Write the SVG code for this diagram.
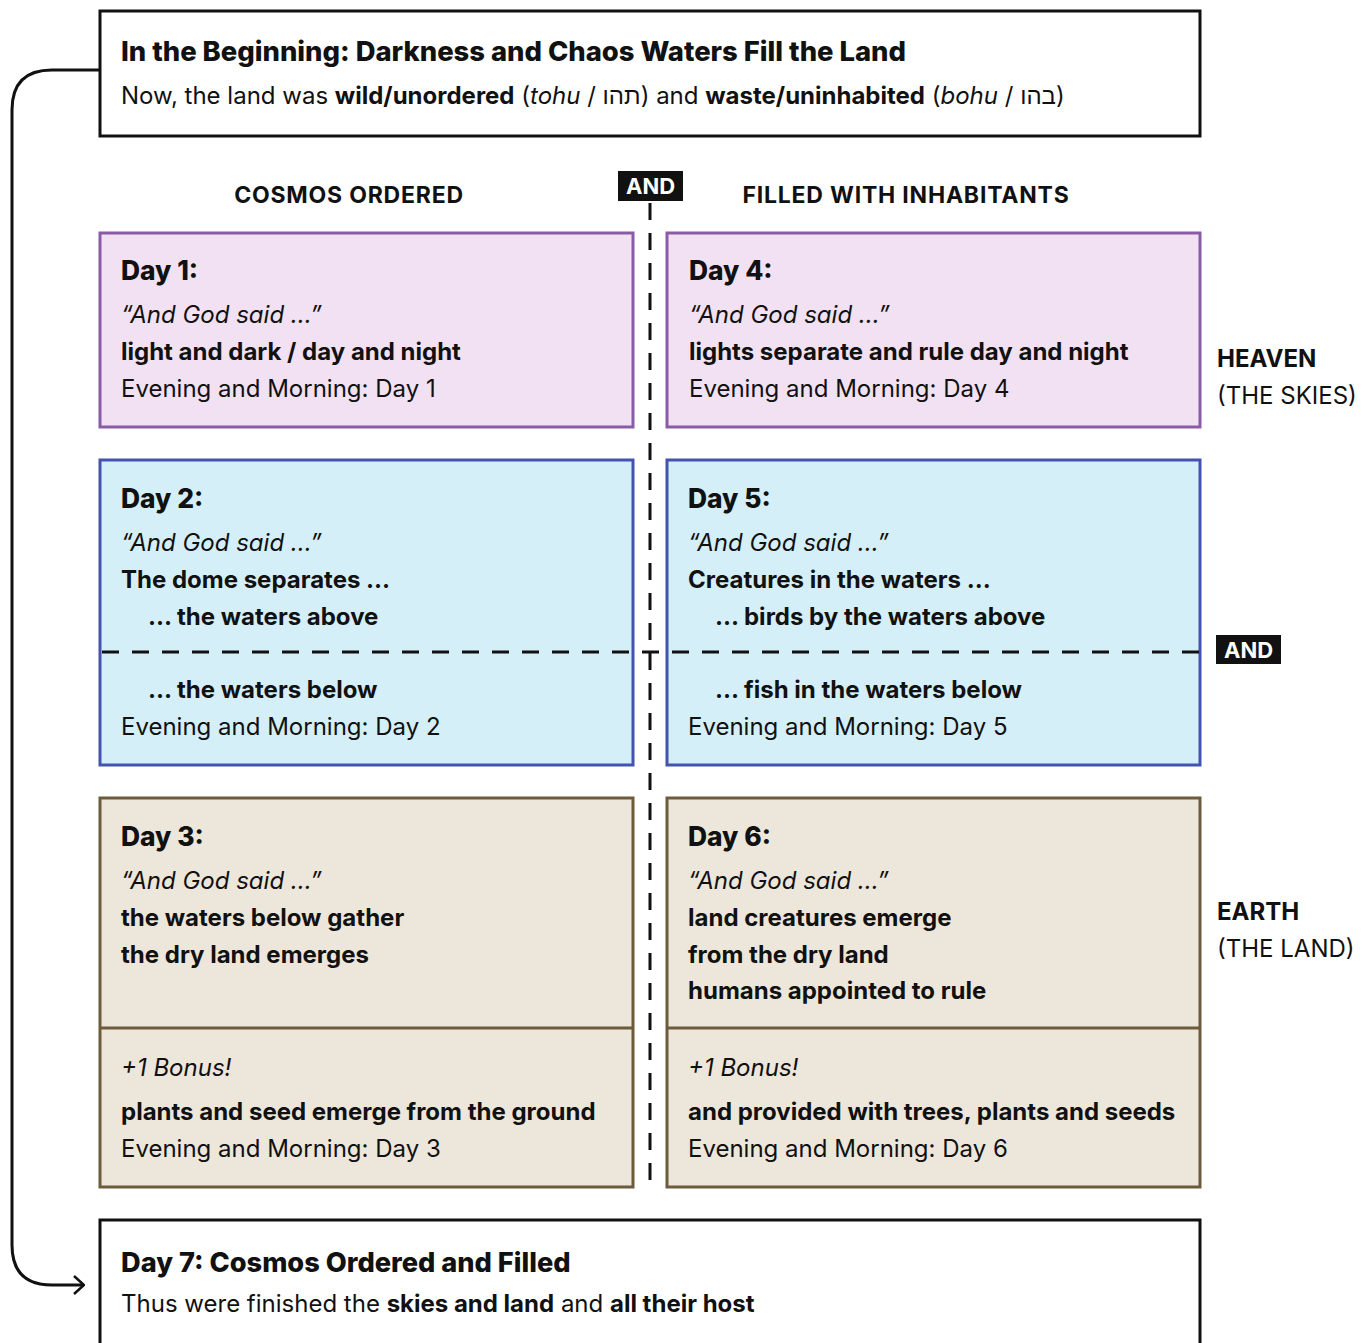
<svg xmlns="http://www.w3.org/2000/svg" width="1367" height="1343" viewBox="0 0 1367 1343">
<defs>
<style>
text{font-family:Inter,"Noto Sans",sans-serif;fill:#111;font-size:24px}
.h{font-weight:800;font-size:26.4px}
.b{font-weight:700}
.i{font-style:italic}
.cap{font-weight:700;font-size:23px;letter-spacing:0.8px}
.tag{font-weight:700;font-size:22px;fill:#fff}
.frame{fill:#fff;stroke:#111;stroke-width:3}
.sky{fill:#f2e1f3;stroke:#8a5ba6;stroke-width:3}
.sea{fill:#d5eff8;stroke:#4452b0;stroke-width:3}
.land{fill:#ede6db;stroke:#6c5c3c;stroke-width:3}
.dash{stroke:#111;stroke-width:3;fill:none;stroke-dasharray:17 13}
</style>
<marker id="arr" viewBox="0 0 12 20" refX="11" refY="10" markerWidth="12" markerHeight="20" markerUnits="userSpaceOnUse" orient="auto">
<path d="M1 1 L11 10 L1 19" fill="none" stroke="#111" stroke-width="2.5"/>
</marker>
</defs>
<rect width="1367" height="1343" fill="#fff"/>

<g id="beginning">
<rect class="frame" x="100" y="11" width="1100" height="125"/>
<text x="121" y="61" class="h" style="font-size:27.4px">In the Beginning: Darkness and Chaos Waters Fill the Land</text>
<text x="121" y="104">Now, the land was <tspan class="b">wild/unordered</tspan> (<tspan class="i">tohu</tspan> / תהו) and <tspan class="b">waste/uninhabited</tspan> (<tspan class="i">bohu</tspan> / בהו)</text>
</g>

<g id="headers">
<text x="349" y="203" class="cap" text-anchor="middle">COSMOS ORDERED</text>
<text x="906" y="203" class="cap" text-anchor="middle">FILLED WITH INHABITANTS</text>
</g>

<g id="day1">
<rect class="sky" x="100" y="233" width="533" height="194"/>
<text x="121" y="280" class="h">Day 1:</text>
<text x="121" y="323" class="i">“And God said ...”</text>
<text x="121" y="360" class="b">light and dark / day and night</text>
<text x="121" y="397">Evening and Morning: Day 1</text>
</g>

<g id="day4">
<rect class="sky" x="667" y="233" width="533" height="194"/>
<text x="689" y="280" class="h">Day 4:</text>
<text x="689" y="323" class="i">“And God said ...”</text>
<text x="689" y="360" class="b">lights separate and rule day and night</text>
<text x="689" y="397">Evening and Morning: Day 4</text>
</g>

<g id="day2">
<rect class="sea" x="100" y="460" width="533" height="305"/>
<text x="121" y="508" class="h">Day 2:</text>
<text x="121" y="551" class="i">“And God said ...”</text>
<text x="121" y="588" class="b">The dome separates ...</text>
<text x="148" y="625" class="b">... the waters above</text>
<text x="148" y="698" class="b">... the waters below</text>
<text x="121" y="735">Evening and Morning: Day 2</text>
</g>

<g id="day5">
<rect class="sea" x="667" y="460" width="533" height="305"/>
<text x="688" y="508" class="h">Day 5:</text>
<text x="688" y="551" class="i">“And God said ...”</text>
<text x="688" y="588" class="b">Creatures in the waters ...</text>
<text x="715" y="625" class="b">... birds by the waters above</text>
<text x="715" y="698" class="b">... fish in the waters below</text>
<text x="688" y="735">Evening and Morning: Day 5</text>
</g>

<g id="day3">
<rect class="land" x="100" y="798" width="533" height="389"/>
<line x1="100" y1="1028" x2="633" y2="1028" stroke="#6c5c3c" stroke-width="3"/>
<text x="121" y="846" class="h">Day 3:</text>
<text x="121" y="889" class="i">“And God said ...”</text>
<text x="121" y="926" class="b">the waters below gather</text>
<text x="121" y="963" class="b">the dry land emerges</text>
<text x="121" y="1076" class="i">+1 Bonus!</text>
<text x="121" y="1120" class="b">plants and seed emerge from the ground</text>
<text x="121" y="1157">Evening and Morning: Day 3</text>
</g>

<g id="day6">
<rect class="land" x="667" y="798" width="533" height="389"/>
<line x1="667" y1="1028" x2="1200" y2="1028" stroke="#6c5c3c" stroke-width="3"/>
<text x="688" y="846" class="h">Day 6:</text>
<text x="688" y="889" class="i">“And God said ...”</text>
<text x="688" y="926" class="b">land creatures emerge</text>
<text x="688" y="963" class="b">from the dry land</text>
<text x="688" y="999" class="b">humans appointed to rule</text>
<text x="688" y="1076" class="i">+1 Bonus!</text>
<text x="688" y="1120" class="b">and provided with trees, plants and seeds</text>
<text x="688" y="1157">Evening and Morning: Day 6</text>
</g>

<g id="heaven-label">
<text x="1217" y="367" class="b">HEAVEN</text>
<text x="1217" y="404">(THE SKIES)</text>
</g>

<g id="earth-label">
<text x="1217" y="920" class="b">EARTH</text>
<text x="1217" y="957">(THE LAND)</text>
</g>

<g id="day7">
<rect class="frame" x="100" y="1220" width="1100" height="140"/>
<text x="121" y="1272" class="h" style="font-size:27.2px">Day 7: Cosmos Ordered and Filled</text>
<text x="121" y="1312">Thus were finished the <tspan class="b">skies and land</tspan> and <tspan class="b">all their host</tspan></text>
</g>

<g id="connectors">
<path d="M100 70 H52 Q12 70 12 110 V1245 Q12 1285 52 1285 H84" fill="none" stroke="#111" stroke-width="3" marker-end="url(#arr)"/>
<line class="dash" x1="650" y1="203" x2="650" y2="1188"/>
<line class="dash" x1="102" y1="652" x2="1200" y2="652"/>
</g>

<g id="and-top">
<rect x="618" y="171" width="65" height="30" fill="#111"/>
<text x="650.5" y="194" class="tag" text-anchor="middle">AND</text>
</g>

<g id="and-right">
<rect x="1216" y="635" width="65" height="29" fill="#111"/>
<text x="1248.5" y="658" class="tag" text-anchor="middle">AND</text>
</g>
</svg>
